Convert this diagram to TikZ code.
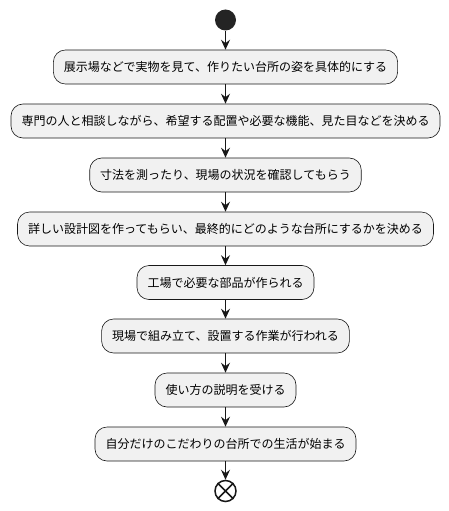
\documentclass[tikz,border=0pt]{standalone}
\usepackage{fontspec}
\newfontfamily\jp{Noto Sans CJK JP}
\usetikzlibrary{arrows.meta}
\definecolor{boxfill}{HTML}{F1F1F1}
\definecolor{ink}{HTML}{181818}
\begin{document}
\begin{tikzpicture}[x=1pt,y=-1pt,
  act/.style={draw=ink,line width=0.6pt,fill=boxfill,rounded corners=12pt,
    minimum height=34pt,inner xsep=10.5pt,inner ysep=0pt,font=\jp\fontsize{12}{14}\selectfont,text=black},
  flow/.style={draw=ink,line width=1pt,-{Stealth[length=10pt,width=9pt,inset=3.5pt]}}]
\useasboundingbox (0,0) rectangle (449,511);
\node[circle,fill=ink!95!white,minimum size=21pt,inner sep=0pt] (start) at (225.5,20) {};
\node[act] (a1) at (225.5,67) {展示場などで実物を見て、作りたい台所の姿を具体的にする};
\node[act] (a2) at (225.5,121) {専門の人と相談しながら、希望する配置や必要な機能、見た目などを決める};
\node[act] (a3) at (225.5,175) {寸法を測ったり、現場の状況を確認してもらう};
\node[act] (a4) at (225.5,229) {詳しい設計図を作ってもらい、最終的にどのような台所にするかを決める};
\node[act] (a5) at (225.5,282.5) {工場で必要な部品が作られる};
\node[act] (a6) at (225.5,336) {現場で組み立て、設置する作業が行われる};
\node[act] (a7) at (225.5,390) {使い方の説明を受ける};
\node[act] (a8) at (225.5,444) {自分だけのこだわりの台所での生活が始まる};
\node[circle,draw=ink,line width=1.5pt,fill=white,minimum size=21pt,inner sep=0pt] (stop) at (225.5,491) {};
\draw[ink,line width=1.5pt] (stop.north east)--(stop.south west) (stop.north west)--(stop.south east);
\draw[flow] (start) -- (a1);
\draw[flow] (a1) -- (a2);
\draw[flow] (a2) -- (a3);
\draw[flow] (a3) -- (a4);
\draw[flow] (a4) -- (a5);
\draw[flow] (a5) -- (a6);
\draw[flow] (a6) -- (a7);
\draw[flow] (a7) -- (a8);
\draw[flow] (a8) -- (stop);
\end{tikzpicture}
\end{document}
